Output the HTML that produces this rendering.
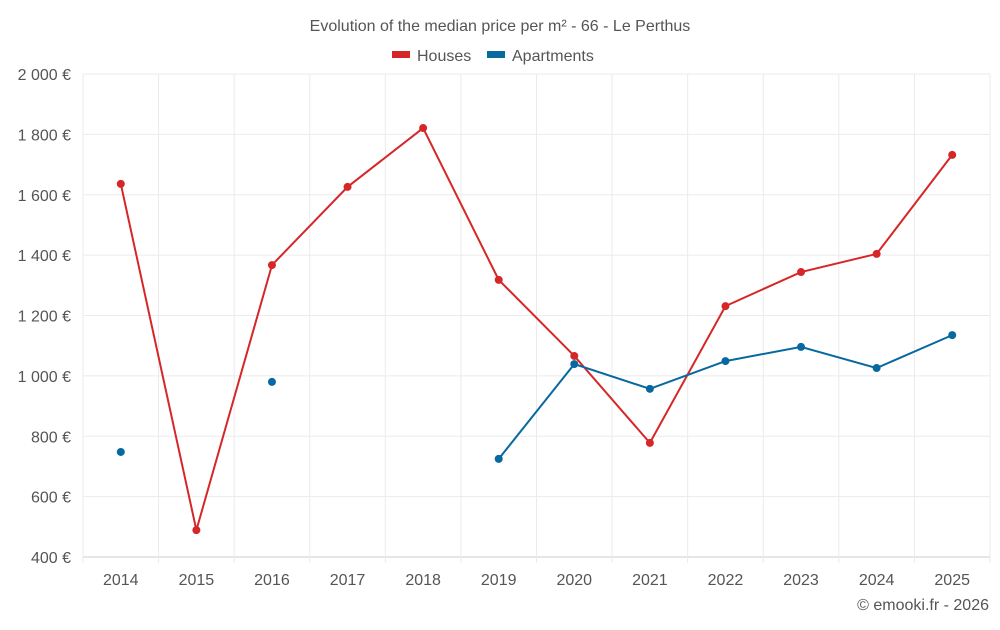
<!DOCTYPE html>
<html><head><meta charset="utf-8"><style>
body{margin:0;background:#fff;font-family:"Liberation Sans",sans-serif;}
svg text{font-family:"Liberation Sans",sans-serif;}
</style></head><body>
<svg id="chart" width="1000" height="625">
<text x="500" y="31" text-anchor="middle" font-size="16" fill="#555">Evolution of the median price per m² - 66 - Le Perthus</text>
<g>
<g><rect x="392" y="51" width="18" height="7" fill="#d62728"/><text x="417" y="61" font-size="16" fill="#555">Houses</text></g>
<g><rect x="487" y="51" width="18" height="7" fill="#0868a0"/><text x="512" y="61" font-size="16" fill="#555">Apartments</text></g>
</g>
<g id="grid"></g><g id="axes"></g><g id="series"></g>
<text x="989" y="610" text-anchor="end" font-size="16" fill="#555">© emooki.fr - 2026</text>
</svg>
<script>
const years=[2014,2015,2016,2017,2018,2019,2020,2021,2022,2023,2024,2025];
const houses=[1636,489,1367,1626,1821,1318,1066,778,1231,1344,1404,1732];
const apartments=[748,null,980,null,null,725,1039,957,1049,1096,1026,1135];
const yTicks=[400,600,800,1000,1200,1400,1600,1800,2000];
const yLabels=["400 €","600 €","800 €","1 000 €","1 200 €","1 400 €","1 600 €","1 800 €","2 000 €"];
const L=83,R=990,T=74,B=557,yMin=400,yMax=2000;
const step=(R-L)/years.length;
function xS(i){return L+step*(i+0.5);}
function yS(v){return B-(v-yMin)/(yMax-yMin)*(B-T);}
const NS="http://www.w3.org/2000/svg";
function mk(tag,attrs,parent){const e=document.createElementNS(NS,tag);for(const k in attrs)e.setAttribute(k,attrs[k]);parent.appendChild(e);return e;}
const grid=document.getElementById('grid'),axes=document.getElementById('axes'),ser=document.getElementById('series');
yTicks.forEach((v,i)=>{
 const l=mk('line',{x1:L,x2:R,y1:yS(v),y2:yS(v),stroke:i==0?'#ccc':'#ebebeb'},grid);
 
 
 const t=mk('text',{x:71,y:yS(v)+6,'text-anchor':'end','font-size':16,fill:'#555'},axes);
 t.textContent=yLabels[i];
 
 
});
for(let i=0;i<=years.length;i++){
 const l=mk('line',{x1:L+step*i,x2:L+step*i,y1:T,y2:B+6,stroke:'#ebebeb'},grid);
 
 
}
years.forEach((y,i)=>{
 const t=mk('text',{x:xS(i),y:585,'text-anchor':'middle','font-size':16,fill:'#555'},axes);
 t.textContent=y;
 
 
});
function draw(vals,color,name){
 let seg=[];const segs=[];
 vals.forEach((v,i)=>{if(v==null){if(seg.length)segs.push(seg);seg=[];}else seg.push([xS(i),yS(v)]);});
 if(seg.length)segs.push(seg);
 segs.forEach(s=>{if(s.length>1){const p=mk('polyline',{points:s.map(q=>q.join(',')).join(' '),fill:'none',stroke:color,'stroke-width':2},ser);
  
  }});
 vals.forEach((v,i)=>{if(v==null)return;const c=mk('circle',{cx:xS(i),cy:yS(v),r:4,fill:color},ser);
  
  });
}
draw(houses,'#d62728','houses');
draw(apartments,'#0868a0','apartments');
</script>
</body></html>
